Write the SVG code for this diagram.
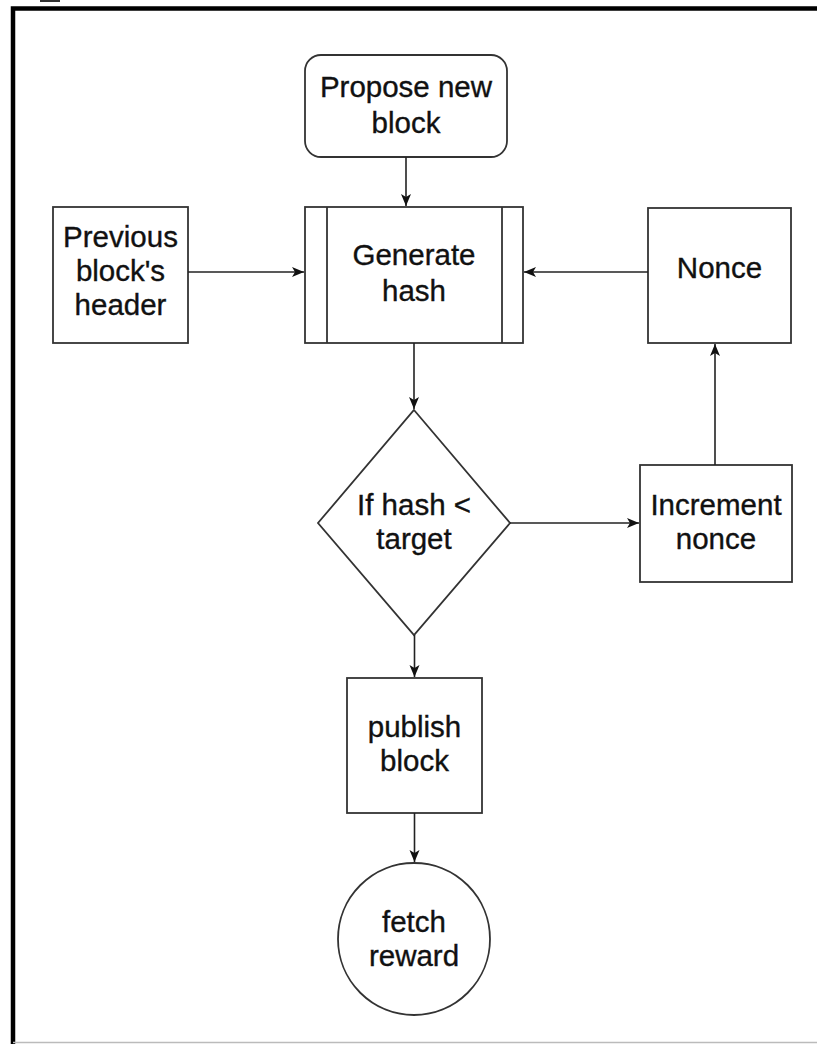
<svg xmlns="http://www.w3.org/2000/svg" width="817" height="1044" viewBox="0 0 817 1044">
<defs>
<marker id="arr" viewBox="0 0 12 12" refX="12" refY="6" markerWidth="12" markerHeight="12" markerUnits="userSpaceOnUse" orient="auto">
<path d="M0,1 L12,6 L0,11 L3,6 Z" fill="#111"/>
</marker>
</defs>
<style>
.n{fill:#fff;stroke:#333;stroke-width:1.8}
.t{font-family:"Liberation Sans",Arial,sans-serif;font-size:29.5px;fill:#111;stroke:#111;stroke-width:0.35;text-anchor:middle}
.c{stroke:#222;stroke-width:1.6;fill:none;marker-end:url(#arr)}
</style>
<rect x="0" y="0" width="817" height="1044" fill="#fff"/>
<rect x="40" y="0" width="20" height="2" fill="#333"/>
<path d="M13,1044 V8.5 H817" fill="none" stroke="#000" stroke-width="4.5"/>
<line x1="13" y1="1042.5" x2="817" y2="1042.5" stroke="#bbb" stroke-width="1.5"/>

<g id="propose">
<rect class="n" x="305" y="55" width="202" height="102" rx="16"/>
<text class="t" x="406" y="97">Propose new</text>
<text class="t" x="406" y="133">block</text>
</g>
<g id="generate">
<rect class="n" x="305" y="207" width="218" height="136"/>
<line x1="327" y1="207" x2="327" y2="343" stroke="#333" stroke-width="1.8"/>
<line x1="502" y1="207" x2="502" y2="343" stroke="#333" stroke-width="1.8"/>
<text class="t" x="414" y="265">Generate</text>
<text class="t" x="414" y="301">hash</text>
</g>
<g id="previous">
<rect class="n" x="53" y="207" width="135" height="136"/>
<text class="t" x="120.5" y="247">Previous</text>
<text class="t" x="120.5" y="281">block's</text>
<text class="t" x="120.5" y="315">header</text>
</g>
<g id="nonce">
<rect class="n" x="648" y="208" width="143" height="135"/>
<text class="t" x="719.5" y="278">Nonce</text>
</g>
<g id="decision">
<polygon class="n" points="414,410 510,523 414,635 318,523"/>
<text class="t" x="414" y="515">If hash &lt;</text>
<text class="t" x="414" y="549">target</text>
</g>
<g id="increment">
<rect class="n" x="640" y="465" width="152" height="117"/>
<text class="t" x="716" y="515">Increment</text>
<text class="t" x="716" y="549">nonce</text>
</g>
<g id="publish">
<rect class="n" x="347" y="678" width="135" height="135"/>
<text class="t" x="414.5" y="737">publish</text>
<text class="t" x="414.5" y="771">block</text>
</g>
<g id="reward">
<circle class="n" cx="414" cy="939" r="76"/>
<text class="t" x="414" y="932">fetch</text>
<text class="t" x="414" y="966">reward</text>
</g>
<g id="connectors">
<line class="c" x1="406" y1="157" x2="406" y2="206"/>
<line class="c" x1="188" y1="272" x2="304" y2="272"/>
<line class="c" x1="648" y1="272" x2="524" y2="272"/>
<line class="c" x1="414" y1="343" x2="414" y2="409"/>
<line class="c" x1="510" y1="523" x2="639" y2="523"/>
<line class="c" x1="715" y1="465" x2="715" y2="344"/>
<line class="c" x1="414.5" y1="635" x2="414.5" y2="677"/>
<line class="c" x1="414.5" y1="813" x2="414.5" y2="862"/>
</g>
</svg>
